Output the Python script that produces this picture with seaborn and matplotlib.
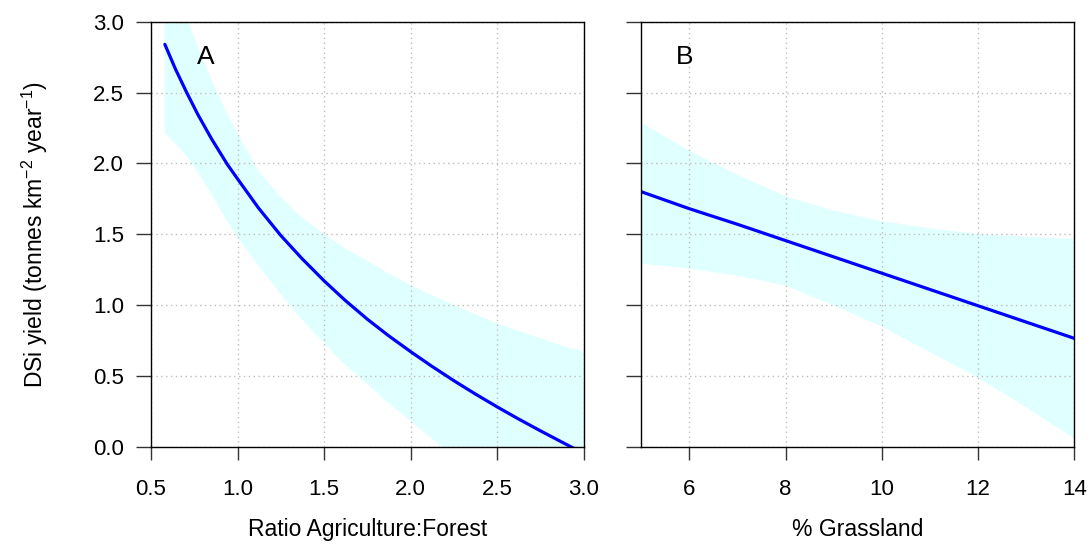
import matplotlib
matplotlib.use("Agg")
import matplotlib.pyplot as plt
import numpy as np
import pandas as pd
import seaborn as sns

# Panel A: fitted DSi yield vs ratio agriculture:forest, with confidence band
ratio_x = [0.58, 0.64, 0.706, 0.77, 0.85, 0.94, 1.00, 1.12, 1.25, 1.37, 1.50, 1.62,
           1.75, 1.87, 2.00, 2.12, 2.25, 2.37, 2.50, 2.62, 2.75, 2.87, 3.00]
ratio_fit = [2.84, 2.669, 2.50, 2.346, 2.172, 1.994, 1.89, 1.686, 1.49, 1.33, 1.17,
             1.034, 0.899, 0.785, 0.67, 0.569, 0.465, 0.374, 0.28, 0.197, 0.111,
             0.034, -0.049]
ratio_upper = [3.45, 3.24, 3.03, 2.82, 2.59, 2.35, 2.21, 1.95, 1.76, 1.62, 1.50,
               1.40, 1.31, 1.225, 1.14, 1.07, 1.00, 0.935, 0.87, 0.818, 0.765,
               0.715, 0.67]
ratio_lower = [2.21, 2.14, 2.05, 1.94, 1.78, 1.59, 1.475, 1.28, 1.075, 0.90, 0.73,
               0.58, 0.44, 0.31, 0.18, 0.06, -0.065, -0.18, -0.29, -0.40, -0.51,
               -0.62, -0.73]

# Panel B: fitted DSi yield vs % grassland, with confidence band
grass_x = [5, 6, 7, 8, 9, 10, 11, 12, 13, 14]
grass_fit = [1.80, 1.68, 1.57, 1.455, 1.34, 1.225, 1.11, 0.995, 0.88, 0.765]
grass_upper = [2.29, 2.09, 1.92, 1.77, 1.67, 1.595, 1.545, 1.505, 1.485, 1.47]
grass_lower = [1.295, 1.26, 1.21, 1.14, 1.00, 0.85, 0.67, 0.49, 0.28, 0.06]

ratio_ticks = [0.5, 1.0, 1.5, 2.0, 2.5, 3.0]
grass_ticks = [6, 8, 10, 12, 14]
yield_ticks = [0.0, 0.5, 1.0, 1.5, 2.0, 2.5, 3.0]

sns.set_style("white")
plt.rcParams["font.family"] = ["Liberation Sans", "DejaVu Sans"]
plt.rcParams["mathtext.fontset"] = "custom"
plt.rcParams["mathtext.rm"] = "Liberation Sans"
plt.rcParams["mathtext.it"] = "Liberation Sans:italic"
plt.rcParams["text.color"] = "black"
plt.rcParams["axes.labelcolor"] = "black"
plt.rcParams["xtick.color"] = "black"
plt.rcParams["ytick.color"] = "black"

W, H = 1092, 545
fig = plt.figure(figsize=(W / 100, H / 100), dpi=100)
bottom = 1 - 446.7 / H
height = 425 / H
width = 433 / W
axA = fig.add_axes([151 / W, bottom, width, height])
axB = fig.add_axes([641.2 / W, bottom, width, height])

band_color = "#E0FFFF"
line_color = "#0000FF"
grid_kw = dict(color="#BDBDBD", linestyle=(0, (1, 2.5)), linewidth=1.0)

def draw_panel(ax, x, fit, lo, hi, xticks, xlim, letter, letter_x, xlabel):
    ax.fill_between(x, lo, hi, color=band_color, linewidth=0, zorder=1)
    df = pd.DataFrame({"x": x, "y": fit})
    sns.lineplot(data=df, x="x", y="y", ax=ax, color=line_color,
                 linewidth=2.3, zorder=3)
    ax.set_xlim(*xlim)
    ax.set_ylim(0, 3)
    ax.set_xticks(xticks)
    ax.set_yticks(yield_ticks)
    for t in xticks:
        ax.axvline(t, zorder=2, **grid_kw)
    for t in yield_ticks:
        ax.axhline(t, zorder=2, **grid_kw)
    for s in ax.spines.values():
        s.set_visible(True)
        s.set_color("black")
        s.set_linewidth(1.0)
        s.set_zorder(4)
    ax.tick_params(axis="x", direction="out", length=9.5, width=1.0,
                   color="#333333", labelcolor="black", labelsize=16,
                   pad=14, bottom=True)
    ax.tick_params(axis="y", direction="out", length=10.5, width=1.0,
                   color="#333333", labelcolor="black", labelsize=16,
                   pad=9, left=True)
    ax.text(letter_x, 2.70, letter, fontsize=19, ha="center", va="baseline",
            color="black", zorder=5)
    ax.set_xlabel(xlabel, fontsize=16.5, color="black")
    ax.xaxis.set_label_coords(0.5, -0.168)
    ax.set_ylabel("")

draw_panel(axA, ratio_x, ratio_fit, ratio_lower, ratio_upper, ratio_ticks,
           (0.5, 3.0), "A", 0.816, "Ratio Agriculture:Forest")
draw_panel(axB, grass_x, grass_fit, grass_lower, grass_upper, grass_ticks,
           (5, 14), "B", 5.90, "% Grassland")

axA.set_xticklabels([f"{t:.1f}" for t in ratio_ticks])
axA.set_yticklabels([f"{t:.1f}" for t in yield_ticks])
axB.set_xticklabels([str(t) for t in grass_ticks])
axB.set_yticklabels([])

axA.set_ylabel(r"DSi yield (tonnes km$^{-2}$ year$^{-1}$)", fontsize=16.5,
               va="center", color="black")
axA.yaxis.set_label_coords(-0.268, 0.5)

fig.savefig("out.png", dpi=100)
